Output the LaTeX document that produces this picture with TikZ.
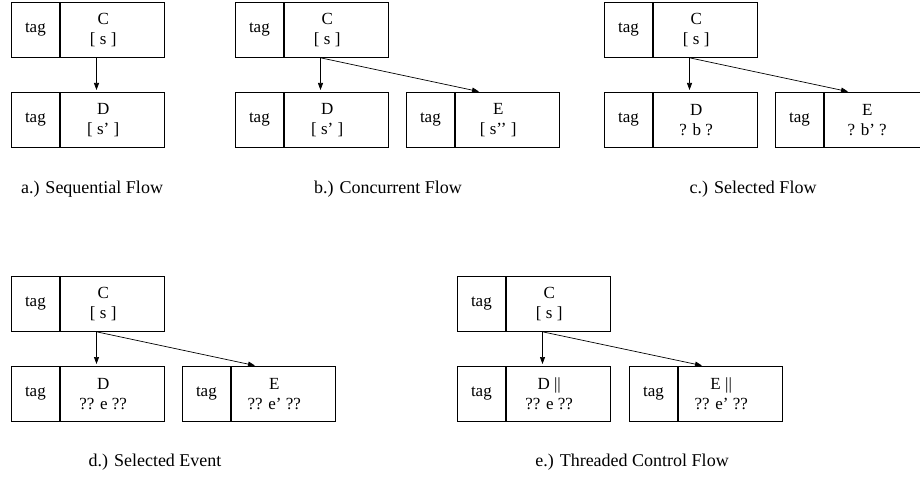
\documentclass[tikz,border=0pt]{standalone}
\usepackage{fontspec}
\setmainfont{Liberation Serif}
\usetikzlibrary{arrows.meta}

\tikzset{
  txt/.style={font=\fontsize{17}{21}\selectfont},
  tagcell/.style={draw, line width=0.8pt, anchor=north west, inner sep=0pt,
                  minimum width=48pt, minimum height=55pt, txt},
  bodycell/.style={draw, line width=0.8pt, anchor=north west, inner sep=0pt,
                   minimum width=104pt, minimum height=55pt},
  bodytext/.style={txt, align=center, inner sep=0pt},
  caption/.style={font=\fontsize{18}{22}\selectfont, inner sep=0pt},
  flow/.style={-{Triangle[length=7pt,width=5pt]}, line width=0.7pt, shorten >=2pt}
}

% A process box: "tag" cell on the left, name and state on the right.
% #1 name, #2 x, #3 y of the top-left corner, #4 first line, #5 second line
\newcommand\procbox[5]{%
  \node[tagcell] (#1-tag) at (#2,#3) {tag};
  \node[bodycell] (#1) at (#1-tag.north east) {};
  \node[bodytext] (#1-text) at ([xshift=-9pt]#1.center) {#4\\[-1pt]#5};
  \coordinate (#1-out) at ([xshift=85.5pt]#1-tag.south west);
  \coordinate (#1-in)  at ([xshift=85.5pt]#1-tag.north west);
  \coordinate (#1-side) at ([xshift=75pt]#1-tag.north west);
}

\begin{document}
\begin{tikzpicture}[x=1pt,y=-1pt]
  \useasboundingbox (0,0) rectangle (920,478);
  \clip (0,0) rectangle (920,478);

  % a.) sequential flow
  \procbox{aC}{11}{2}{C}{[ s ]}
  \procbox{aD}{11}{92}{D}{[ s’ ]}
  \draw[flow] (aC-out) -- (aD-in);
  \node[caption] (acap) at (92,189) {a.) Sequential Flow};

  % b.) concurrent flow
  \procbox{bC}{235}{2}{C}{[ s ]}
  \procbox{bD}{235}{92}{D}{[ s’ ]}
  \procbox{bE}{406}{92}{E}{[ s’’ ]}
  \draw[flow] (bC-out) -- (bD-in);
  \draw[flow] (bC-out) -- (bE-side);
  \node[caption] (bcap) at (388,189) {b.) Concurrent Flow};

  % c.) selected flow
  \procbox{cC}{604}{2}{C}{[ s ]}
  \procbox{cD}{604}{92}{D}{? b ?}
  \procbox{cE}{775}{92}{E}{? b’ ?}
  \draw[flow] (cC-out) -- (cD-in);
  \draw[flow] (cC-out) -- (cE-side);
  \node[caption] (ccap) at (753,189) {c.) Selected Flow};

  % d.) selected event
  \procbox{dC}{11}{276}{C}{[ s ]}
  \procbox{dD}{11}{366}{D}{?? e ??}
  \procbox{dE}{182}{366}{E}{?? e’ ??}
  \draw[flow] (dC-out) -- (dD-in);
  \draw[flow] (dC-out) -- (dE-side);
  \node[caption] (dcap) at (155,462) {d.) Selected Event};

  % e.) threaded control flow
  \procbox{eC}{457}{276}{C}{[ s ]}
  \procbox{eD}{457}{366}{D ||}{?? e ??}
  \procbox{eE}{629}{366}{E ||}{?? e’ ??}
  \draw[flow] (eC-out) -- (eD-in);
  \draw[flow] (eC-out) -- (eE-side);
  \node[caption] (ecap) at (632,462) {e.) Threaded Control Flow};
\end{tikzpicture}
\end{document}
